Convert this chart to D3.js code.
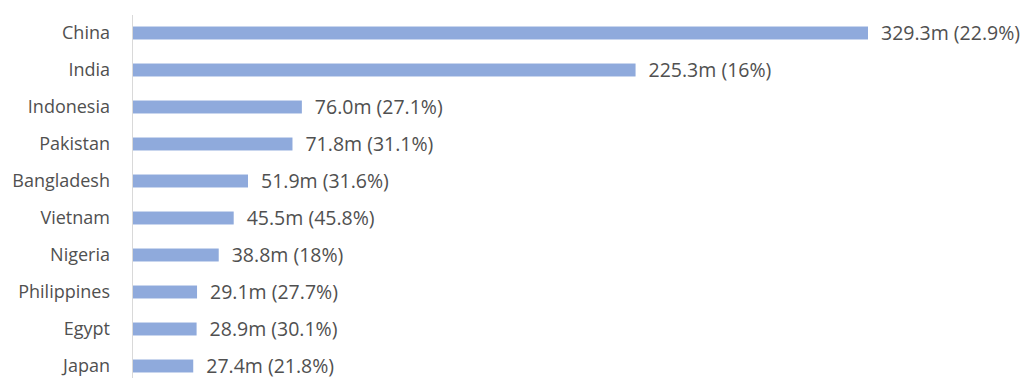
<!DOCTYPE html>
<html>
<head>
<meta charset="utf-8">
<script src="https://cdn.jsdelivr.net/npm/d3@7"></script>
<style>
  html, body { margin: 0; padding: 0; background: #fff; }
  svg { display: block; }
  text { font-family: "Open Sans", sans-serif; font-size: 18px; fill: #505050; }
  .value-label { font-size: 19.5px; }
</style>
</head>
<body>
<svg id="chart" width="1024" height="378"></svg>
<script>
// Countries, values in millions, and share in parentheses
const countries = ["China", "India", "Indonesia", "Pakistan", "Bangladesh", "Vietnam", "Nigeria", "Philippines", "Egypt", "Japan"];
const values = [329.3, 225.3, 76.0, 71.8, 51.9, 45.5, 38.8, 29.1, 28.9, 27.4];
const valueLabels = ["329.3m", "225.3m", "76.0m", "71.8m", "51.9m", "45.5m", "38.8m", "29.1m", "28.9m", "27.4m"];
const shareLabels = ["22.9%", "16%", "27.1%", "31.1%", "31.6%", "45.8%", "18%", "27.7%", "30.1%", "21.8%"];

const data = countries.map((c, i) => ({
  country: c, value: values[i], label: `${valueLabels[i]} (${shareLabels[i]})`
}));

const svg = d3.select("#chart");
const x0 = 132;

const x = d3.scaleLinear()
  .domain([0, d3.max(values)])
  .range([x0, 868]);

const y = d3.scaleBand()
  .domain(countries)
  .range([14.5, 384.5])
  .paddingInner(0.65)
  .paddingOuter(0.325);

// bars
svg.append("g").selectAll("rect")
  .data(data)
  .join("rect")
  .attr("x", x(0))
  .attr("y", d => y(d.country))
  .attr("width", d => x(d.value) - x(0))
  .attr("height", y.bandwidth())
  .attr("fill", "#8faadc");

// category axis
const axis = svg.append("g")
  .attr("transform", `translate(${x0},0)`)
  .call(d3.axisLeft(y).tickSize(0).tickPadding(22));
axis.select(".domain").remove();
axis.selectAll("text")
  .attr("dy", "0.35em")
  .style("font-family", "'Open Sans', sans-serif")
  .style("font-size", "18px")
  .style("fill", "#505050");

svg.append("line")
  .attr("x1", x0 + 0.5).attr("x2", x0 + 0.5)
  .attr("y1", 15).attr("y2", 378)
  .attr("stroke", "#d9d9d9")
  .attr("stroke-width", 1);

// value labels
svg.append("g").selectAll("text")
  .data(data)
  .join("text")
  .attr("class", "value-label")
  .attr("x", d => x(d.value) + 13)
  .attr("y", d => y(d.country) + y.bandwidth() / 2)
  .attr("dy", "0.35em")
  .text(d => d.label);
</script>
</body>
</html>
